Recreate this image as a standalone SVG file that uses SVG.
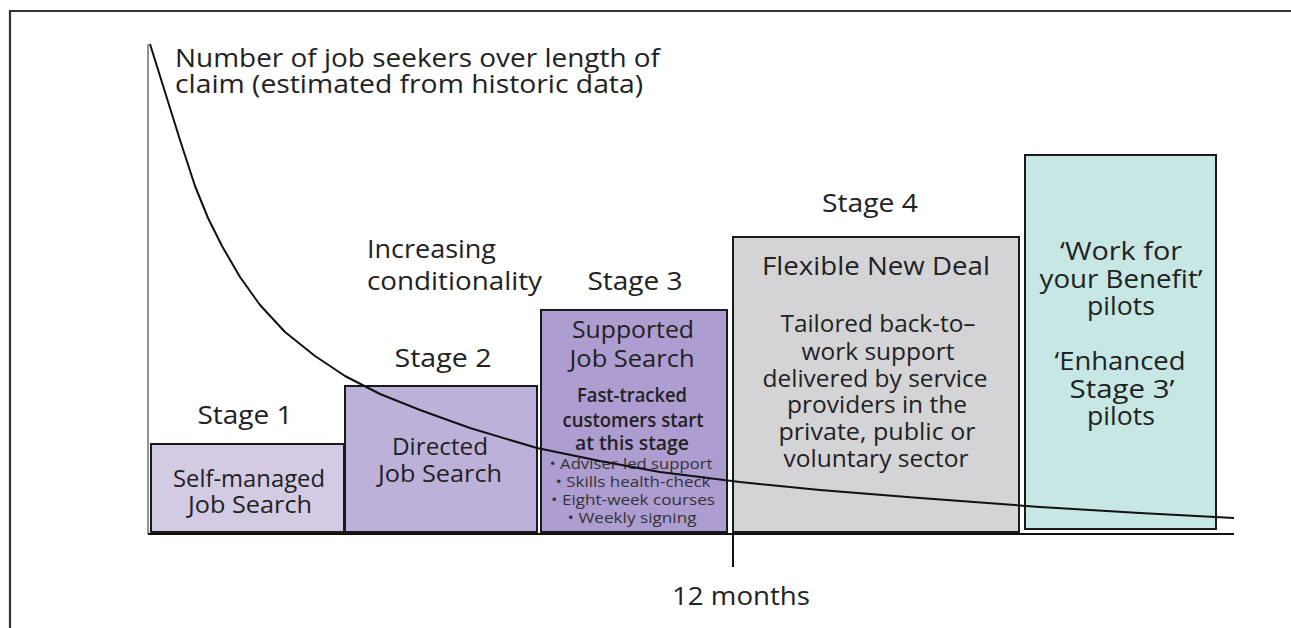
<svg xmlns="http://www.w3.org/2000/svg" width="1291" height="628" viewBox="0 0 1291 628">
<style>
text{font-family:"Open Sans","Liberation Sans",sans-serif;fill:#222;}
.lg{font-size:25px;}
.lbl{font-size:24px;}
.box{stroke:#1a1a1a;stroke-width:2;}
.mid{text-anchor:middle;}
.b{font-weight:600;}
.m{font-weight:500;}
.sm{font-size:19px;}
.xs{font-size:14px;fill:#333;}
</style>
<rect width="1291" height="628" fill="#fff"/>
<path d="M10,628 V11 H1291" fill="none" stroke="#333" stroke-width="2.2"/>
<g id="connectors" fill="none">
<line x1="148" y1="44" x2="148" y2="534" stroke="#777" stroke-width="1.6"/>
<line x1="148" y1="534" x2="1234" y2="534" stroke="#111" stroke-width="2"/>
<line x1="733" y1="534" x2="733" y2="567" stroke="#111" stroke-width="2"/>
</g>
<g id="stage1"><rect class="box" x="151" y="444" width="193" height="88" fill="#d3cbe3"/>
<text class="lg mid" x="245" y="424" textLength="95" lengthAdjust="spacingAndGlyphs">Stage 1</text>
<text class="lbl mid" x="249" y="487" textLength="152" lengthAdjust="spacingAndGlyphs">Self-managed</text><text class="lbl mid" x="250" y="513" textLength="124" lengthAdjust="spacingAndGlyphs">Job Search</text></g>
<g id="stage2"><rect class="box" x="345" y="386" width="192" height="146" fill="#bdb1d9"/>
<text class="lg mid" x="443" y="367" textLength="97" lengthAdjust="spacingAndGlyphs">Stage 2</text>
<text class="lbl mid" x="440" y="455" textLength="96" lengthAdjust="spacingAndGlyphs">Directed</text><text class="lbl mid" x="440" y="482" textLength="124" lengthAdjust="spacingAndGlyphs">Job Search</text></g>
<g id="conditionality"><text class="lg" x="367" y="258" textLength="129" lengthAdjust="spacingAndGlyphs">Increasing</text><text class="lg" x="367" y="290" textLength="175" lengthAdjust="spacingAndGlyphs">conditionality</text></g>
<g id="stage3"><rect class="box" x="541" y="310" width="186" height="222" fill="#ad9dd0"/>
<text class="lg mid" x="635" y="290" textLength="95" lengthAdjust="spacingAndGlyphs">Stage 3</text>
<text class="lbl mid" x="633" y="338" textLength="122" lengthAdjust="spacingAndGlyphs">Supported</text><text class="lbl mid" x="632" y="367" textLength="125" lengthAdjust="spacingAndGlyphs">Job Search</text>
<text class="sm b mid" x="632" y="402" textLength="110" lengthAdjust="spacingAndGlyphs">Fast-tracked</text><text class="sm b mid" x="633" y="427" textLength="141" lengthAdjust="spacingAndGlyphs">customers start</text><text class="sm b mid" x="632" y="450" textLength="114" lengthAdjust="spacingAndGlyphs">at this stage</text>
<text class="xs mid" x="631" y="469" textLength="163" lengthAdjust="spacingAndGlyphs">• Adviser-led support</text><text class="xs mid" x="633" y="487" textLength="155" lengthAdjust="spacingAndGlyphs">• Skills health-check</text><text class="xs mid" x="633" y="505" textLength="164" lengthAdjust="spacingAndGlyphs">• Eight-week courses</text><text class="xs mid" x="632" y="523" textLength="129" lengthAdjust="spacingAndGlyphs">• Weekly signing</text></g>
<g id="stage4"><rect class="box" x="733" y="237" width="286" height="295" fill="#d4d4d7"/>
<text class="lg mid" x="870" y="212" textLength="96" lengthAdjust="spacingAndGlyphs">Stage 4</text>
<text class="lg mid m" x="876" y="275" textLength="228" lengthAdjust="spacingAndGlyphs">Flexible New Deal</text>
<text class="lbl mid" x="878" y="332" textLength="195" lengthAdjust="spacingAndGlyphs">Tailored back-to–</text><text class="lbl mid" x="878" y="360" textLength="153" lengthAdjust="spacingAndGlyphs">work support</text><text class="lbl mid" x="875" y="387" textLength="225" lengthAdjust="spacingAndGlyphs">delivered by service</text><text class="lbl mid" x="877" y="413" textLength="180" lengthAdjust="spacingAndGlyphs">providers in the</text><text class="lbl mid" x="877" y="440" textLength="197" lengthAdjust="spacingAndGlyphs">private, public or</text><text class="lbl mid" x="876" y="467" textLength="185" lengthAdjust="spacingAndGlyphs">voluntary sector</text></g>
<g id="pilots"><rect class="box" x="1025" y="155" width="191" height="374" fill="#c6e7e4"/>
<text class="lg mid m" x="1121" y="260" textLength="122" lengthAdjust="spacingAndGlyphs">‘Work for</text><text class="lg mid m" x="1121" y="288" textLength="163" lengthAdjust="spacingAndGlyphs">your Benefit’</text><text class="lg mid m" x="1121" y="315" textLength="68" lengthAdjust="spacingAndGlyphs">pilots</text>
<text class="lg mid m" x="1120" y="370" textLength="131" lengthAdjust="spacingAndGlyphs">‘Enhanced</text><text class="lg mid m" x="1122" y="398" textLength="105" lengthAdjust="spacingAndGlyphs">Stage 3’</text><text class="lg mid m" x="1121" y="425" textLength="68" lengthAdjust="spacingAndGlyphs">pilots</text></g>
<g id="curve-label"><text class="lg" x="175" y="67" textLength="485" lengthAdjust="spacingAndGlyphs">Number of job seekers over length of</text><text class="lg" x="175" y="93" textLength="468" lengthAdjust="spacingAndGlyphs">claim (estimated from historic data)</text></g>
<g id="curve" fill="none"><path d="M150,44 L165,92 L180,140 L195,186 L208,218 L222,246 L240,277 L260,305 L285,332 L315,356 L345,376 L380,394 L420,410 L470,428 L537,448 L600,461 L660,472 L740,482 L820,490 L920,498 L1040,507 L1140,513 L1234,518" stroke="#111" stroke-width="2" stroke-linejoin="round"/></g>
<g id="axis-label"><text class="lg mid" x="741" y="605" textLength="138" lengthAdjust="spacingAndGlyphs">12 months</text></g>
</svg>
